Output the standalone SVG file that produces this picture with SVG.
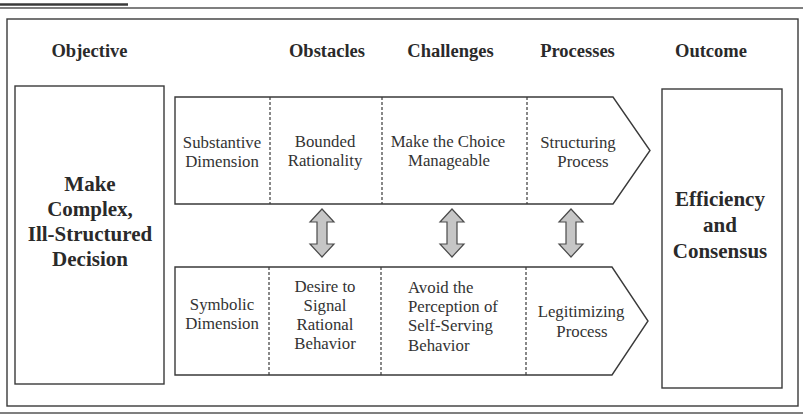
<svg xmlns="http://www.w3.org/2000/svg" xmlns:xlink="http://www.w3.org/1999/xlink" width="803" height="417" viewBox="0 0 803 417">
<style>
.frame{fill:none;stroke:#3a3a3a;stroke-width:1.4}
.box{fill:#fff;stroke:#3a3a3a;stroke-width:1.4}
.div{stroke:#3a3a3a;stroke-width:1.2;stroke-dasharray:3,2}
.hdr{font-family:'Liberation Serif','Times New Roman',serif;font-weight:bold;font-size:18.5px;fill:#2a2a2a;text-anchor:middle}
.big{font-family:'Liberation Serif','Times New Roman',serif;font-weight:bold;font-size:21px;fill:#2a2a2a;text-anchor:middle}
.t{font-family:'Liberation Serif','Times New Roman',serif;font-size:16.8px;fill:#333;text-anchor:middle}
.tl{font-family:'Liberation Serif','Times New Roman',serif;font-size:16.8px;fill:#333}
.dbl{fill:#c6c6c6;stroke:#4a4a4a;stroke-width:1.2}
</style>
<defs>
<path id="darrow" d="M0,0 L12,13 L5,13 L5,35 L12,35 L0,48 L-12,35 L-5,35 L-5,13 L-12,13 Z"/>
</defs>
<rect width="803" height="417" fill="#fff"/>
<line x1="0" y1="4.5" x2="128" y2="4.5" stroke="#3a3a3a" stroke-width="2.5"/>
<line x1="0" y1="8" x2="803" y2="8" stroke="#555" stroke-width="1.3"/>
<rect class="frame" x="7" y="19" width="791" height="387"/>
<line x1="0" y1="413" x2="803" y2="413" stroke="#555" stroke-width="1.3"/>

<g id="headers">
<text class="hdr" x="89.5" y="57">Objective</text>
<text class="hdr" x="327" y="57">Obstacles</text>
<text class="hdr" x="450.5" y="57">Challenges</text>
<text class="hdr" x="577.5" y="57">Processes</text>
<text class="hdr" x="711" y="57">Outcome</text>
</g>

<g id="objective">
<rect class="box" x="15" y="86" width="149" height="298"/>
<text class="big" x="90" y="191">Make</text>
<text class="big" x="90" y="216">Complex,</text>
<text class="big" x="90" y="241">Ill-Structured</text>
<text class="big" x="90" y="266">Decision</text>
</g>

<g id="outcome">
<rect class="box" x="662" y="89" width="120" height="299"/>
<text class="big" x="720" y="206">Efficiency</text>
<text class="big" x="720" y="232">and</text>
<text class="big" x="720" y="258">Consensus</text>
</g>

<g id="substantive-row">
<path class="box" d="M175,97 L613,97 L650,150.5 L613,204 L175,204 Z"/>
<line class="div" x1="270" y1="97" x2="270" y2="204"/>
<line class="div" x1="382" y1="97" x2="382" y2="204"/>
<line class="div" x1="527" y1="97" x2="527" y2="204"/>
<text class="t" x="222" y="148">Substantive</text>
<text class="t" x="222" y="167">Dimension</text>
<text class="t" x="325" y="147">Bounded</text>
<text class="t" x="325" y="166">Rationality</text>
<text class="t" x="448" y="147">Make the Choice</text>
<text class="t" x="449" y="166">Manageable</text>
<text class="t" x="578" y="148">Structuring</text>
<text class="t" x="583" y="167">Process</text>
</g>

<g id="symbolic-row">
<path class="box" d="M175,267 L612,267 L648,321 L612,375 L175,375 Z"/>
<line class="div" x1="269" y1="267" x2="269" y2="375"/>
<line class="div" x1="381" y1="267" x2="381" y2="375"/>
<line class="div" x1="526" y1="267" x2="526" y2="375"/>
<text class="t" x="222" y="310">Symbolic</text>
<text class="t" x="222" y="329">Dimension</text>
<text class="t" x="325" y="292">Desire to</text>
<text class="t" x="325" y="311">Signal</text>
<text class="t" x="325" y="330">Rational</text>
<text class="t" x="325" y="349">Behavior</text>
<text class="tl" x="408" y="293">Avoid the</text>
<text class="tl" x="408" y="312">Perception of</text>
<text class="tl" x="408" y="331">Self-Serving</text>
<text class="tl" x="408" y="351">Behavior</text>
<text class="t" x="581" y="317">Legitimizing</text>
<text class="t" x="582" y="337">Process</text>
</g>

<g id="connectors">
<use xlink:href="#darrow" class="dbl" x="322" y="209"/>
<use xlink:href="#darrow" class="dbl" x="452" y="209"/>
<use xlink:href="#darrow" class="dbl" x="571" y="209"/>
</g>
</svg>
